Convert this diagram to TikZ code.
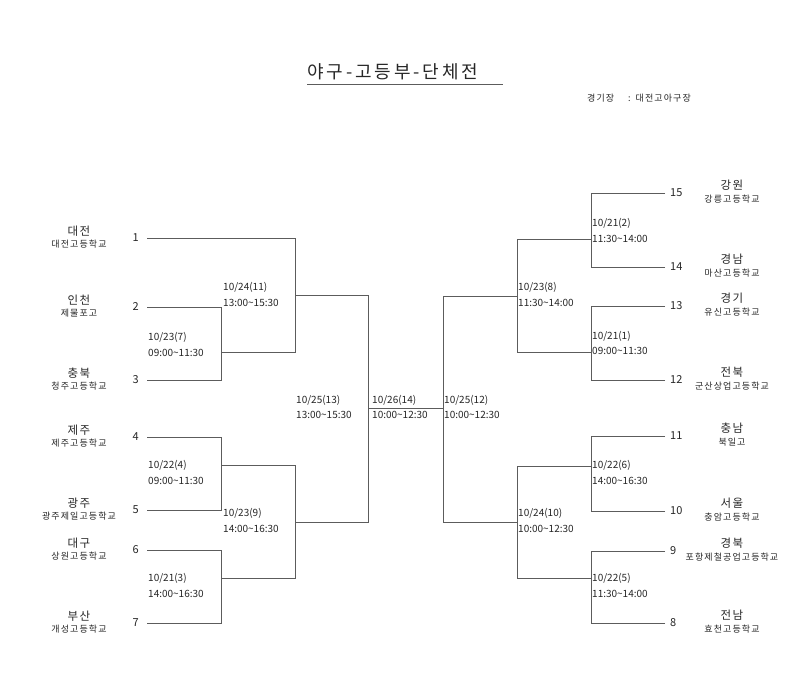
\documentclass[tikz,border=0pt]{standalone}
\usepackage{fontspec}
\setmainfont{Noto Sans CJK KR}
\newfontfamily\titlefont[LetterSpace=16]{Noto Sans CJK KR}
\newfontfamily\widefont[LetterSpace=12]{Noto Sans CJK KR}
\usetikzlibrary{positioning}
\definecolor{linegray}{HTML}{5C5C5C}
\definecolor{textgray}{HTML}{262626}

\begin{document}
\begin{tikzpicture}[x=1pt, y=-1pt] % coordinate in pixel, origine in alto a sinistra
    % Stili del tabellone
    \tikzset{
        bracket/.style={draw=linegray, line width=0.8pt},
        regione/.style={font=\widefont\fontsize{11.5}{13}\selectfont, text=textgray, inner sep=0pt},
        scuola/.style={font=\widefont\fontsize{9}{11}\selectfont, text=textgray, inner sep=0pt},
        numsx/.style={anchor=east, inner ysep=0pt, inner xsep=8pt, font=\fontsize{11}{13}\selectfont, text=textgray},
        numdx/.style={anchor=west, inner ysep=0pt, inner xsep=5pt, font=\fontsize{11}{13}\selectfont, text=textgray},
        partita/.style={anchor=west, inner sep=0pt, align=left, font=\fontsize{10}{15.5}\selectfont, text=textgray}
    }

    % Sfondo e dimensioni
    \path[fill=white, use as bounding box] (0,0) rectangle (800,674);

    % --- Titolo e campo ---
    \node[anchor=west, inner sep=0pt, text=textgray, font=\titlefont\fontsize{18}{20}\selectfont] (titolo) at (307,72) {야구-고등부-단체전};
    \draw[linegray, line width=0.8pt] (307,84) -- (503,84);
    \node[anchor=west, inner sep=0pt, text=textgray, font=\widefont\fontsize{9}{11}\selectfont] (campo) at (587,98) {경기장\hspace{14pt}:\hspace{5pt}대전고아구장};

    % --- Squadre a sinistra ---
    \foreach \n/\y/\reg/\sch in {1/238/대전/대전고등학교, 2/307/인천/제물포고, 3/380/충북/청주고등학교,
        4/437/제주/제주고등학교, 5/510/광주/광주제일고등학교, 6/550/대구/상원고등학교, 7/623/부산/개성고등학교} {
        \node[numsx] (n\n) at (147,\y) {\n};
        \node[regione] (r\n) at (79,\y-7) {\reg};
        \node[scuola] (s\n) at (79,\y+6.5) {\sch};
    }

    % --- Squadre a destra ---
    \foreach \n/\y/\reg/\sch in {15/193/강원/강릉고등학교, 14/267/경남/마산고등학교, 13/306/경기/유신고등학교,
        12/380/전북/군산상업고등학교, 11/436/충남/북일고, 10/511/서울/충암고등학교, 9/551/경북/포항제철공업고등학교,
        8/623/전남/효천고등학교} {
        \node[numdx] (n\n) at (665,\y) {\n};
        \node[regione] (r\n) at (732,\y-8) {\reg};
        \node[scuola] (s\n) at (732,\y+6) {\sch};
    }

    % --- Punti di incontro ---
    \coordinate (j7) at (221,352);
    \coordinate (j4) at (221,465);
    \coordinate (j3) at (221,578);
    \coordinate (j11) at (295,295);
    \coordinate (j9) at (295,522);
    \coordinate (j13) at (368,408);
    \coordinate (j2) at (591,239);
    \coordinate (j1) at (591,352);
    \coordinate (j6) at (591,466);
    \coordinate (j5) at (591,578);
    \coordinate (j8) at (517,296);
    \coordinate (j10) at (517,522);
    \coordinate (j12) at (443,408);

    % --- Linee a sinistra ---
    \draw[bracket] (n2.east) -| (j7);
    \draw[bracket] (n3.east) -| (j7);
    \draw[bracket] (n1.east) -| (j11);
    \draw[bracket] (j7) -| (j11);
    \draw[bracket] (n4.east) -| (j4);
    \draw[bracket] (n5.east) -| (j4);
    \draw[bracket] (n6.east) -| (j3);
    \draw[bracket] (n7.east) -| (j3);
    \draw[bracket] (j4) -| (j9);
    \draw[bracket] (j3) -| (j9);
    \draw[bracket] (j11) -| (j13);
    \draw[bracket] (j9) -| (j13);

    % --- Linee a destra ---
    \draw[bracket] (n15.west) -| (j2);
    \draw[bracket] (n14.west) -| (j2);
    \draw[bracket] (n13.west) -| (j1);
    \draw[bracket] (n12.west) -| (j1);
    \draw[bracket] (n11.west) -| (j6);
    \draw[bracket] (n10.west) -| (j6);
    \draw[bracket] (n9.west) -| (j5);
    \draw[bracket] (n8.west) -| (j5);
    \draw[bracket] (j2) -| (j8);
    \draw[bracket] (j1) -| (j8);
    \draw[bracket] (j6) -| (j10);
    \draw[bracket] (j5) -| (j10);
    \draw[bracket] (j8) -| (j12);
    \draw[bracket] (j10) -| (j12);

    % Finale
    \draw[bracket] (j13) -- (j12);

    % --- Date e orari ---
    \node[partita] (p7) at (148,344.5) {10/23(7)\\09:00\textasciitilde11:30};
    \node[partita] (p4) at (148,472.5) {10/22(4)\\09:00\textasciitilde11:30};
    \node[partita] (p3) at (148,585.5) {10/21(3)\\14:00\textasciitilde16:30};
    \node[partita] (p11) at (223,294.5) {10/24(11)\\13:00\textasciitilde15:30};
    \node[partita] (p9) at (223,520.5) {10/23(9)\\14:00\textasciitilde16:30};
    \node[partita] (p13) at (296,407) {10/25(13)\\13:00\textasciitilde15:30};
    \node[partita] (p14) at (372,407) {10/26(14)\\10:00\textasciitilde12:30};
    \node[partita] (p12) at (444,407) {10/25(12)\\10:00\textasciitilde12:30};
    \node[partita] (p8) at (518,294.5) {10/23(8)\\11:30\textasciitilde14:00};
    \node[partita] (p10) at (518,520.5) {10/24(10)\\10:00\textasciitilde12:30};
    \node[partita] (p2) at (592,230.5) {10/21(2)\\11:30\textasciitilde14:00};
    \node[partita] (p1) at (592,343) {10/21(1)\\09:00\textasciitilde11:30};
    \node[partita] (p6) at (592,472.5) {10/22(6)\\14:00\textasciitilde16:30};
    \node[partita] (p5) at (592,585.5) {10/22(5)\\11:30\textasciitilde14:00};

\end{tikzpicture}
\end{document}
